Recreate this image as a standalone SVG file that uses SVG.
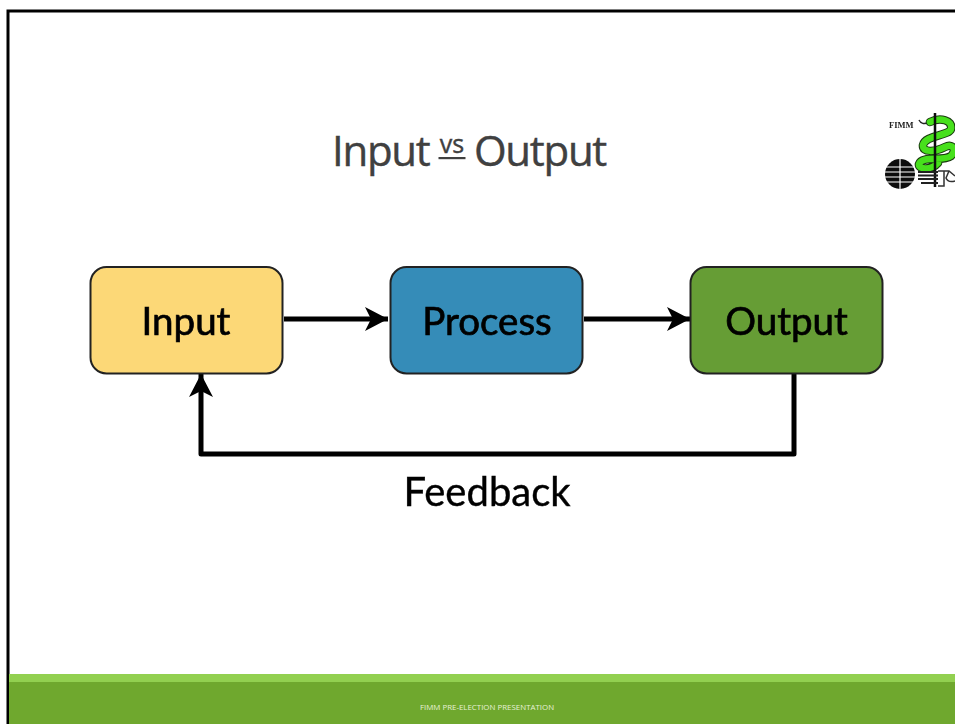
<svg xmlns="http://www.w3.org/2000/svg" width="955" height="724" viewBox="0 0 955 724">
<style>
.box{stroke:#222;stroke-width:2}
.lbl{font-family:"Lato","Noto Sans",sans-serif;font-size:38.500px;fill:#000;text-anchor:middle;stroke:#000;stroke-width:.7}
.ttl{font-family:"Open Sans","Noto Sans",sans-serif;font-size:42px;fill:#404040;stroke:#404040;stroke-width:.4;letter-spacing:-1.3px}
.con{fill:none;stroke:#000;stroke-width:5;stroke-linejoin:round}
</style>
<defs>
<filter id="soft" x="-5%" y="-5%" width="110%" height="110%"><feGaussianBlur stdDeviation="0.55"/></filter>
<filter id="softer" x="-5%" y="-5%" width="110%" height="110%"><feGaussianBlur stdDeviation="0.4"/></filter>
<marker id="ah" markerUnits="userSpaceOnUse" markerWidth="26" markerHeight="26" refX="23" refY="12" orient="auto">
<path d="M0 0L23 12L0 24L6 12Z" fill="#000"/>
</marker>
</defs>
<rect width="955" height="724" fill="#fff"/>
<path d="M8 724V11H955" fill="none" stroke="#000" stroke-width="3"/>
<g id="footer">
<rect x="9" y="674" width="946" height="50" fill="#6fa82e"/>
<rect x="9" y="674" width="946" height="8" fill="#92d050"/>
<text x="487" y="710" font-family="'Open Sans','Noto Sans',sans-serif" font-size="7.900" fill="#e6f0d8" text-anchor="middle">FIMM PRE-ELECTION PRESENTATION</text>
</g>
<g id="title">
<text class="ttl" x="332" y="166">Input</text>
<text x="452" y="153" font-family="'Open Sans','Noto Sans',sans-serif" font-size="25" fill="#404040" stroke="#404040" stroke-width=".4" text-anchor="middle">vs</text>
<rect x="438.500" y="157" width="27" height="2.200" fill="#404040"/>
<text class="ttl" x="474" y="166">Output</text>
</g>
<g filter="url(#soft)">
<g id="connectors">
<path class="con" d="M284 319H388" marker-end="url(#ah)"/>
<path class="con" d="M584 319H690" marker-end="url(#ah)"/>
<path class="con" d="M794 374V454H201V374" marker-end="url(#ah)"/>
</g>
<g id="node-input">
<rect class="box" x="90.500" y="267" width="192" height="106.500" rx="16" fill="#fcd877"/>
<text class="lbl" x="186" y="335">Input</text>
</g>
<g id="node-process">
<rect class="box" x="390.500" y="267" width="192" height="106.500" rx="16" fill="#348cb8"/>
<text class="lbl" x="487" y="335">Process</text>
</g>
<g id="node-output">
<rect class="box" x="690.500" y="267" width="192" height="106.500" rx="16" fill="#669d35"/>
<text class="lbl" x="786.500" y="335">Output</text>
</g>
<text id="feedback" class="lbl" x="487" y="506" style="font-size:40px;stroke-width:.4">Feedback</text>
</g>
<g id="logo" filter="url(#softer)">
<text x="889" y="128" font-family="'Liberation Serif',serif" font-weight="bold" font-size="8.500" fill="#222">FIMM</text>
<path d="M919 120Q922 126 930 122" fill="none" stroke="#222" stroke-width="1.500"/>
<path d="M930 122C940 117 953 120 951 129C949 136 925 135 923 145C922 153 935 152 945 147C953 143 957 150 951 156C943 162 922 155 919 164C918 170 932 170 938 163" fill="none" stroke="#1a3a10" stroke-width="8.500" stroke-linecap="round"/>
<path d="M930 122C940 117 953 120 951 129C949 136 925 135 923 145C922 153 935 152 945 147C953 143 957 150 951 156C943 162 922 155 919 164C918 170 932 170 938 163" fill="none" stroke="#46e01c" stroke-width="6.500" stroke-linecap="round"/>
<path d="M935 113V187" stroke="#111" stroke-width="2.500"/>
<circle cx="900" cy="174" r="15" fill="#111"/>
<g stroke="#fff" stroke-width="1.200" fill="none">
<path d="M885 167H915M885 172H915M885 177H915M885 182H915"/>
<path d="M900 159V189"/>
</g>
<path d="M918 172H938M918 175.500H938M918 179H938M921 183H938" stroke="#222" stroke-width="2.200"/>
<path d="M938 171H949L955 176M938 186H944V171M949 171L946 178Q948 183 955 181" stroke="#333" stroke-width="1.500" fill="none"/>
</g>
</svg>
